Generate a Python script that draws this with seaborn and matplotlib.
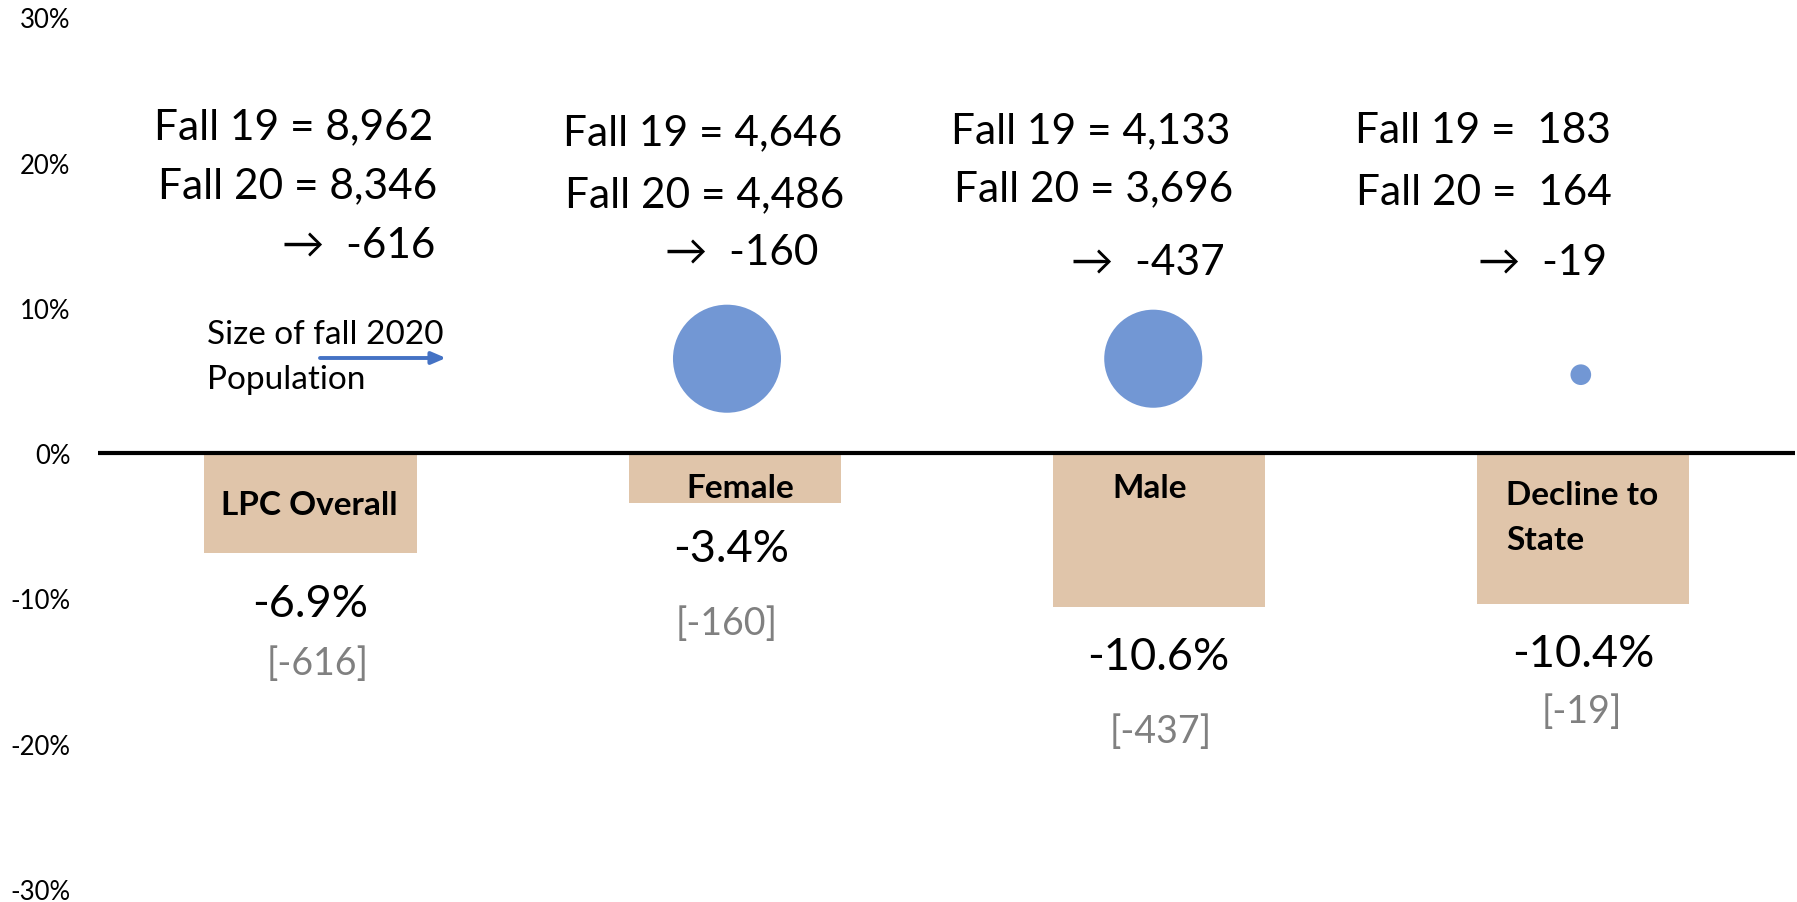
import matplotlib
matplotlib.use("Agg")
import matplotlib.pyplot as plt
import seaborn as sns
import pandas as pd
from matplotlib.ticker import FuncFormatter

# ---------------- data ----------------
categories = ["LPC Overall", "Female", "Male", "Decline to State"]
pct_change = [-6.9, -3.4, -10.6, -10.4]          # percent change fall 19 -> fall 20
fall19 = [8962, 4646, 4133, 183]
fall20 = [8346, 4486, 3696, 164]
diff = [-616, -160, -437, -19]
bubble_x = [0.982, 1.987, 2.995]                 # Female, Male, Decline to State
bubble_y = [6.5, 6.5, 5.4]                       # bubble vertical position (%)
bubble_size = [4486, 3696, 164]                  # fall 2020 population
yticks = [-30, -20, -10, 0, 10, 20, 30]

W, H = 1797, 903
sns.set_theme(style="white")
plt.rcParams["font.family"] = ["Lato", "DejaVu Sans"]

fig = plt.figure(figsize=(W / 100, H / 100), dpi=100)
ax = fig.add_axes([98.4 / W, 1 - 890 / H, (1795 - 98.4) / W, (890 - 18.3) / H])

df = pd.DataFrame({"cat": categories, "pct": pct_change})
sns.barplot(data=df, x="cat", y="pct", order=categories, color="#E0C5AA",
            saturation=1, width=0.5, ax=ax, zorder=2, edgecolor="none")

bdf = pd.DataFrame({"x": bubble_x, "y": bubble_y, "size": bubble_size})
sns.scatterplot(data=bdf, x="x", y="y", size="size", sizes=(0, 6052),
                size_norm=(0, 4486), color="#7297D4", edgecolor="none",
                linewidth=0, legend=False, ax=ax, zorder=3)

ax.axhline(0, color="black", lw=3.0, zorder=4)
ax.set_xlim(-0.5, 3.5)
ax.set_ylim(-30, 30)
ax.set_yticks(yticks)
ax.yaxis.set_major_formatter(FuncFormatter(lambda v, p: f"{v:.0f}%"))
ax.tick_params(axis="y", length=0, pad=20, labelsize=18.5, labelcolor="black")
ax.set_xticks([])
ax.set_xlabel("")
ax.set_ylabel("")
for s in ax.spines.values():
    s.set_visible(False)
ax.grid(False)


def P(x, y):
    return (x / W, 1 - y / H)


T = fig.transFigure

# top annotations: Fall 19 / Fall 20 / change
right_x = [(433, 437, 435), (842, 844, 818), (1230, 1233, 1225), (1611, 1612, 1607)]
base_y = [(139, 198, 258), (145, 207, 265), (143, 201, 275), (143, 205, 275)]
for i in range(4):
    sep = "  " if fall19[i] < 1000 else " "
    l1 = f"Fall 19 ={sep}{fall19[i]:,}"
    l2 = f"Fall 20 ={sep}{fall20[i]:,}"
    l3 = f"\u2192  {diff[i]}"
    for txt, xx, yy in zip((l1, l2, l3), right_x[i], base_y[i]):
        fig.text(*P(xx, yy), txt, transform=T, ha="right", va="baseline",
                 fontsize=30.5, color="black")

# bar name labels
fig.text(*P(309, 515), categories[0], transform=T, ha="center", va="baseline",
         fontsize=24, fontweight="bold", color="black")
fig.text(*P(740, 498), categories[1], transform=T, ha="center", va="baseline",
         fontsize=24, fontweight="bold", color="black")
fig.text(*P(1150, 498), categories[2], transform=T, ha="center", va="baseline",
         fontsize=24, fontweight="bold", color="black")
fig.text(*P(1506, 505), "Decline to", transform=T, ha="left", va="baseline",
         fontsize=24, fontweight="bold", color="black")
fig.text(*P(1506, 550), "State", transform=T, ha="left", va="baseline",
         fontsize=24, fontweight="bold", color="black")

# percent and difference labels
pct_pos = [(310, 617), (731, 562), (1158, 670), (1583, 667)]
diff_pos = [(318, 675), (727, 635), (1161, 743), (1582, 723)]
for i in range(4):
    fig.text(*P(*pct_pos[i]), f"{pct_change[i]:.1f}%", transform=T, ha="center",
             va="baseline", fontsize=32.5, color="black")
    fig.text(*P(*diff_pos[i]), f"[{diff[i]}]", transform=T, ha="center",
             va="baseline", fontsize=27, color="#808080")

# legend note
fig.text(*P(207, 344), "Size of fall 2020", transform=T, ha="left", va="baseline",
         fontsize=24, color="black")
fig.text(*P(207, 389), "Population", transform=T, ha="left", va="baseline",
         fontsize=24, color="black")
ax.annotate("", xy=P(446, 359), xytext=P(320, 359), xycoords=T, textcoords=T,
            arrowprops=dict(arrowstyle="-|>,head_length=0.7,head_width=0.3",
                            color="#4472C4", lw=2.8, shrinkA=0, shrinkB=0),
            zorder=5)

fig.savefig("out.png", dpi=100)
